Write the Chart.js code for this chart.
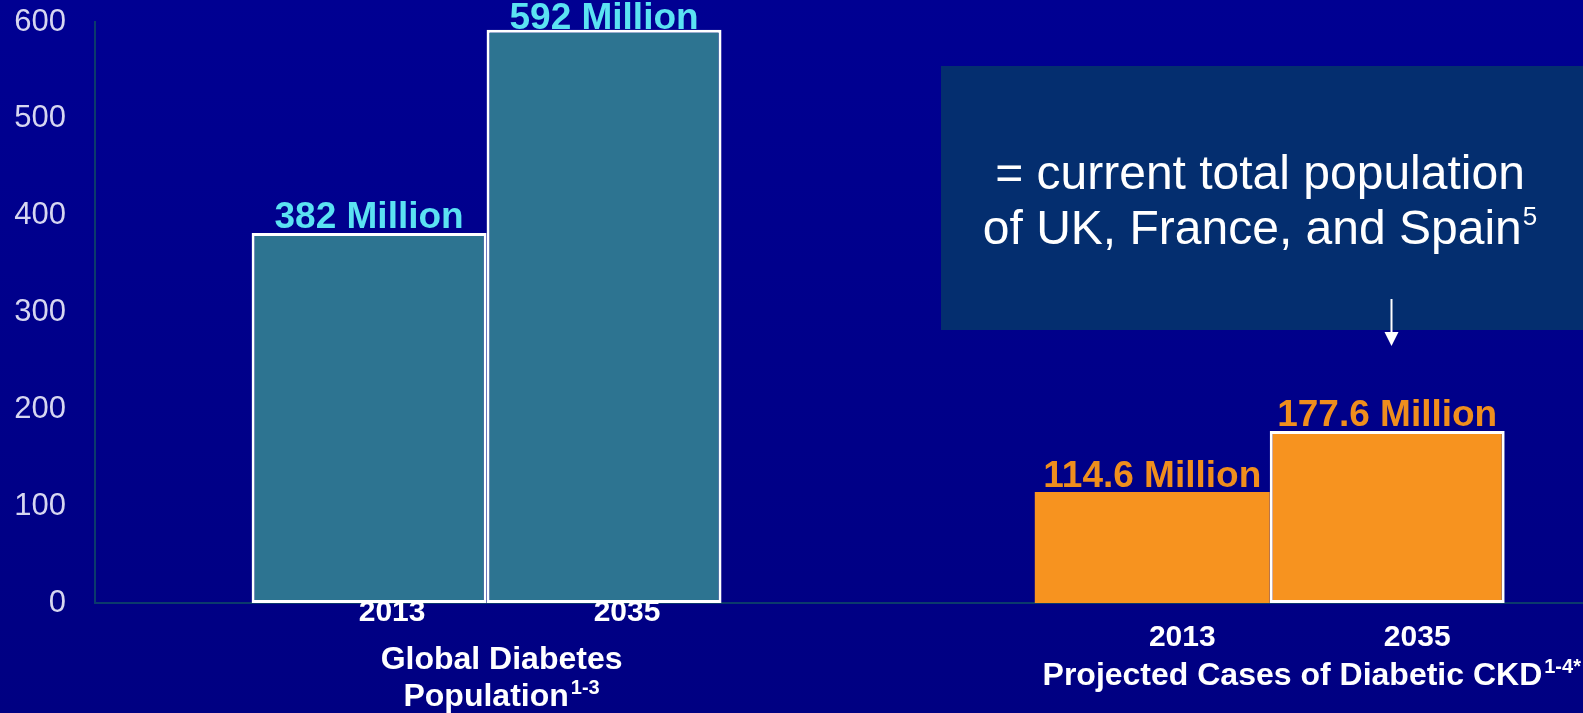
<!DOCTYPE html>
<html>
<head>
<meta charset="utf-8">
<script src="https://cdn.jsdelivr.net/npm/chart.js@4.4.1/dist/chart.umd.min.js"></script>
<style>
  html, body { margin: 0; padding: 0; }
  body { width: 1583px; height: 713px; overflow: hidden; background: linear-gradient(#000092, #000082); }
  #wrap { position: relative; width: 1583px; height: 713px; }
</style>
</head>
<body>
<div id="wrap"><canvas id="chart"></canvas></div>
<script>
const FONT = "'Liberation Sans', Arial, Helvetica, sans-serif";

const years = ['2013', '2035'];
const diabetesMillions = [382, 592];
const ckdMillions = [114.6, 177.6];
const yMax = 600;
const yStep = 100;
const diabetesTitle = ['Global Diabetes', 'Population'];
const diabetesRef = '1-3';
const ckdTitle = ['Projected Cases of Diabetic CKD'];
const ckdRef = '1-4*';
const noteLines = ['= current total population', 'of UK, France, and Spain'];
const noteRef = '5';

// per-group look; yearBase / titleBase are text baselines in px
const groups = [
    { values: diabetesMillions, title: diabetesTitle, ref: diabetesRef, fill: '#2d7491', text: '#5be2f2',
      borders: [3, 3], yearBase: 621, yearShift: 23, titleShift: 15, titleBase: [669, 706], slots: [] },
    { values: ckdMillions, title: ckdTitle, ref: ckdRef, fill: '#f7931f', text: '#ef8e1d',
      borders: [0, 3], yearBase: 646, yearShift: 30, titleShift: 42, titleBase: [685], slots: [] }
];

// the x axis is split into 19 equal slots; every bar is 3 slots wide
const labels = [], values = [], fills = [], borderWidths = [];
const spacer = n => {
    for (let i = 0; i < n; i++) {
        labels.push(''); values.push(null); fills.push('rgba(0,0,0,0)'); borderWidths.push(0);
    }
};
spacer(3);
groups.forEach((g, gi) => {
    years.forEach((yr, i) => {
        if (i) spacer(2);
        labels.push(yr);
        values.push(g.values[i]);
        fills.push(g.fill);
        borderWidths.push(g.borders[i]);
        g.slots.push(labels.length - 1);
    });
    spacer(gi === 0 ? 6 : 2);
});

const textWithRef = (ctx, text, ref, x, y, size) => {
    ctx.font = `bold ${size}px ${FONT}`;
    const w = ctx.measureText(text).width;
    const supSize = Math.round(size * 0.62);
    ctx.font = `bold ${supSize}px ${FONT}`;
    const sw = ref ? ctx.measureText(ref).width + 2 : 0;
    return { w: w + sw, start: x - (w + sw) / 2, draw: (sx) => {
        ctx.textAlign = 'left';
        ctx.font = `bold ${size}px ${FONT}`;
        ctx.fillText(text, sx, y);
        if (ref) {
            ctx.font = `bold ${supSize}px ${FONT}`;
            ctx.fillText(ref, sx + w + 2, y - size * 0.38);
        }
    } };
};

const labelsPlugin = {
    id: 'labels',
    afterDatasetsDraw(chart) {
        const ctx = chart.ctx;
        const bars = chart.getDatasetMeta(0).data;
        const right = chart.chartArea.right;
        ctx.save();
        ctx.textBaseline = 'alphabetic';
        groups.forEach(g => {
            const xs = g.slots.map(s => bars[s].x);
            g.slots.forEach((s, i) => {
                const bar = bars[s];
                ctx.fillStyle = g.text;
                ctx.textAlign = 'center';
                ctx.font = `bold 37px ${FONT}`;
                // keep the tallest label inside the canvas
                ctx.fillText(`${g.values[i]} Million`, bar.x, Math.max(bar.y - 5, 29));

                ctx.fillStyle = '#ffffff';
                ctx.font = `bold 30px ${FONT}`;
                ctx.fillText(years[i], bar.x + g.yearShift, g.yearBase);
            });
            const cx = (xs[0] + xs[xs.length - 1]) / 2 + g.titleShift;
            ctx.fillStyle = '#ffffff';
            g.title.forEach((line, li) => {
                const last = li === g.title.length - 1;
                const t = textWithRef(ctx, line, last ? g.ref : '', cx, g.titleBase[li], 32);
                t.draw(Math.min(t.start, right - t.w - 2));
            });
        });
        ctx.restore();
    },
    afterDraw(chart) {
        const ctx = chart.ctx;
        const bars = chart.getDatasetMeta(0).data;
        const target = bars[groups[1].slots[1]];
        ctx.save();
        // note panel
        ctx.fillStyle = '#042e6f';
        ctx.fillRect(941, 66, 642, 264);
        ctx.fillStyle = '#ffffff';
        ctx.textBaseline = 'alphabetic';
        ctx.textAlign = 'center';
        ctx.font = `48px ${FONT}`;
        ctx.fillText(noteLines[0], 1260, 189);
        const w = ctx.measureText(noteLines[1]).width;
        ctx.font = `26px ${FONT}`;
        const sw = ctx.measureText(noteRef).width;
        const sx = 1260 - (w + sw + 1) / 2;
        ctx.textAlign = 'left';
        ctx.font = `48px ${FONT}`;
        ctx.fillText(noteLines[1], sx, 244);
        ctx.font = `26px ${FONT}`;
        ctx.fillText(noteRef, sx + w + 1, 225);

        // arrow down to the 2035 CKD bar
        const ax = Math.round(target.x + 4) + 0.5;
        ctx.strokeStyle = '#ffffff';
        ctx.lineWidth = 2;
        ctx.beginPath();
        ctx.moveTo(ax, 299);
        ctx.lineTo(ax, 334);
        ctx.stroke();
        ctx.beginPath();
        ctx.moveTo(ax - 7, 332);
        ctx.lineTo(ax + 7, 332);
        ctx.lineTo(ax, 346);
        ctx.closePath();
        ctx.fill();
        ctx.restore();
    }
};

new Chart(document.getElementById('chart'), {
    type: 'bar',
    data: {
        labels,
        datasets: [{
            data: values,
            backgroundColor: fills,
            borderColor: '#ffffff',
            borderWidth: borderWidths,
            borderSkipped: false,
            barPercentage: 3,
            categoryPercentage: 1
        }]
    },
    options: {
        responsive: true,
        maintainAspectRatio: false,
        animation: false,
        layout: { padding: { top: 22, right: 0, bottom: 110, left: 0 } },
        plugins: { legend: { display: false }, tooltip: { enabled: false } },
        scales: {
            x: {
                grid: { display: false, drawTicks: false },
                ticks: { display: false },
                border: { color: '#0b3a6c', width: 2 },
                afterFit: s => { s.height = 0; s.paddingLeft = 0; s.paddingRight = 0; }
            },
            y: {
                min: 0,
                max: yMax,
                grid: { display: false, drawTicks: false },
                border: { color: '#0b3a6c', width: 2 },
                ticks: { stepSize: yStep, padding: 29, color: '#d6d6f0', font: { family: FONT, size: 31 } },
                afterFit: s => { s.width = 95; s.paddingTop = 0; s.paddingBottom = 0; }
            }
        }
    },
    plugins: [labelsPlugin]
});
</script>
</body>
</html>
